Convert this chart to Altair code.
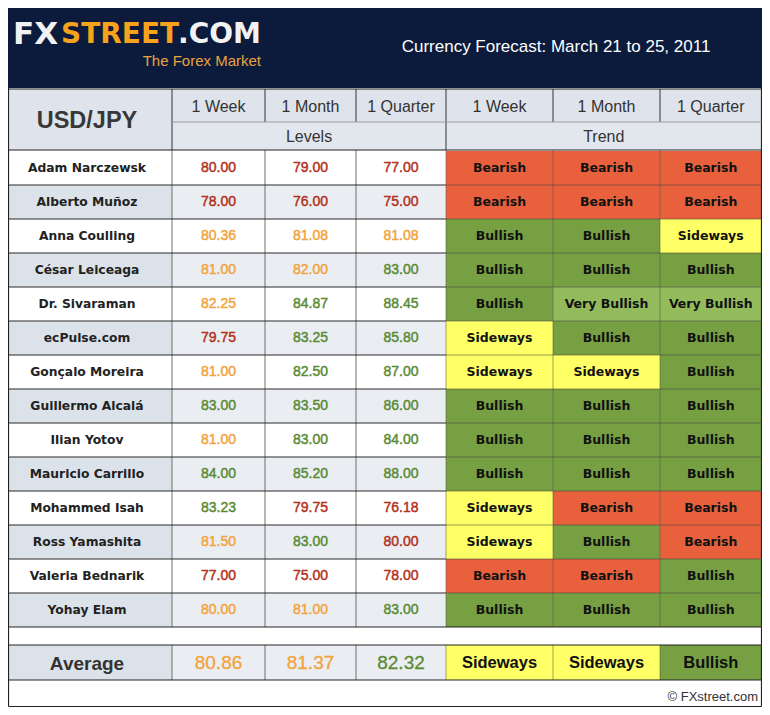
import altair as alt
import pandas as pd

# ---------------- data ----------------
pair = "USD/JPY"
title_text = "Currency Forecast: March 21 to 25, 2011"
logo_parts = ["FX", "STREET", ".COM"]
tagline = "The Forex Market"
footer_text = "© FXstreet.com"
horizons = ["1 Week", "1 Month", "1 Quarter"]
groups = ["Levels", "Trend"]
avg_label = "Average"

analysts = ["Adam Narczewsk", "Alberto Muñoz", "Anna Coulling", "César Leiceaga",
            "Dr. Sivaraman", "ecPulse.com", "Gonçalo Moreira", "Guillermo Alcalá",
            "Ilian Yotov", "Mauricio Carrillo", "Mohammed Isah", "Ross Yamashita",
            "Valeria Bednarik", "Yohay Elam"]

week_levels = [80.00, 78.00, 80.36, 81.00, 82.25, 79.75, 81.00, 83.00, 81.00, 84.00, 83.23, 81.50, 77.00, 80.00]
month_levels = [79.00, 76.00, 81.08, 82.00, 84.87, 83.25, 82.50, 83.50, 83.00, 85.20, 79.75, 83.00, 75.00, 81.00]
quarter_levels = [77.00, 75.00, 81.08, 83.00, 88.45, 85.80, 87.00, 86.00, 84.00, 88.00, 76.18, 80.00, 78.00, 83.00]

# tone of each level figure as printed (bear = red, flat = orange, bull = green)
week_tone = ["bear", "bear", "flat", "flat", "flat", "bear", "flat", "bull", "flat", "bull", "bull", "flat", "bear", "flat"]
month_tone = ["bear", "bear", "flat", "flat", "bull", "bull", "bull", "bull", "bull", "bull", "bear", "bull", "bear", "flat"]
quarter_tone = ["bear", "bear", "flat", "bull", "bull", "bull", "bull", "bull", "bull", "bull", "bear", "bear", "bear", "bull"]

week_trend = ["Bearish", "Bearish", "Bullish", "Bullish", "Bullish", "Sideways", "Sideways", "Bullish",
              "Bullish", "Bullish", "Sideways", "Sideways", "Bearish", "Bullish"]
month_trend = ["Bearish", "Bearish", "Bullish", "Bullish", "Very Bullish", "Bullish", "Sideways", "Bullish",
               "Bullish", "Bullish", "Bearish", "Bullish", "Bearish", "Bullish"]
quarter_trend = ["Bearish", "Bearish", "Sideways", "Bullish", "Very Bullish", "Bullish", "Bullish", "Bullish",
                 "Bullish", "Bullish", "Bearish", "Bearish", "Bullish", "Bullish"]

avg_levels = [80.86, 81.37, 82.32]
avg_tone = ["flat", "flat", "bull"]
avg_trend = ["Sideways", "Sideways", "Bullish"]

# ---------------- styling / layout ----------------
NAVY = "#0c1a3c"
HEAD_BG = "#dfe4ec"
NAME_SHADE = "#dce2ea"
CELL_SHADE = "#eaeef3"
TONE_COLOR = {"bear": "#b3301a", "flat": "#f2a33c", "bull": "#5b8a34"}
TREND_FILL = {"Bearish": "#e8613c", "Bullish": "#77a043", "Very Bullish": "#93bb5c", "Sideways": "#ffff66"}

L, R = 8.5, 761.5                       # visible frame
COL = [L, 172, 265, 356, 446, 553, 660, R]
NAVY_Y = (8, 88)
HDR1 = (89, 122)
HDR2 = (122, 150)
ROW0, ROW_H = 151, 34
AVG = (645, 680)
BOTTOM = 706.5

level_cols = [week_levels, month_levels, quarter_levels]
tone_cols = [week_tone, month_tone, quarter_tone]
trend_cols = [week_trend, month_trend, quarter_trend]

def ccx(c):
    return (COL[c] + COL[c + 1]) / 2 if c > 0 else (2 + 172) / 2

# ---------------- rects ----------------
rects = []
def rect(x, x2, y, y2, fill):
    rects.append(dict(x=x, x2=x2, y=y, y2=y2, fill=fill))

rect(L - 1, R + 1, NAVY_Y[0], NAVY_Y[1], NAVY)
rect(COL[0], COL[1], HDR1[0], HDR2[1], HEAD_BG)
rect(COL[1], COL[7], HDR1[0], HDR1[1], HEAD_BG)
rect(COL[1], COL[7], HDR2[0], HDR2[1], "#e2e7ee")
for i in range(len(analysts)):
    y, y2 = ROW0 + ROW_H * i, ROW0 + ROW_H * (i + 1)
    shaded = i % 2 == 1
    rect(COL[0], COL[1], y, y2, NAME_SHADE if shaded else "#ffffff")
    rect(COL[1], COL[4], y, y2, CELL_SHADE if shaded else "#ffffff")
    for k in range(3):
        rect(COL[4 + k], COL[5 + k], y, y2, TREND_FILL[trend_cols[k][i]])
rect(COL[0], COL[1], AVG[0], AVG[1], NAME_SHADE)
rect(COL[1], COL[4], AVG[0], AVG[1], CELL_SHADE)
for k in range(3):
    rect(COL[4 + k], COL[5 + k], AVG[0], AVG[1], TREND_FILL[avg_trend[k]])
rect_df = pd.DataFrame(rects)

# ---------------- rules ----------------
rules = []
def rule(x, x2, y, y2, color="#2a2a2a", w=1.0, op=1.0):
    rules.append(dict(x=x, x2=x2, y=y, y2=y2, c=color, w=w, op=op))

data_bottom = ROW0 + ROW_H * len(analysts)
for c in range(1, 7):
    rule(COL[c], COL[c], HDR1[0], HDR1[1], "#333333")
for c in (1, 4):
    rule(COL[c], COL[c], HDR2[0], HDR2[1], "#333333")
for c in range(1, 7):
    clr, op = ("#6e6e6e", 1.0) if c < 4 else ("#555555", 0.55)
    rule(COL[c], COL[c], HDR2[1], data_bottom, clr, 1, op)
    rule(COL[c], COL[c], AVG[0], AVG[1], clr, 1, op)
rule(L, L, NAVY_Y[1], BOTTOM, "#222222", 1.2)
rule(R, R, NAVY_Y[1], BOTTOM, "#222222", 1.2)
rule(L, R, HDR1[0], HDR1[0], "#222222", 1.2)
rule(COL[1], R, HDR1[1], HDR1[1], "#9a9a9a", 1)
rule(L, R, HDR2[1], HDR2[1], "#222222", 1.2)
for i in range(1, len(analysts)):
    y = ROW0 + ROW_H * i
    rule(L, COL[4], y, y, "#2a2a2a", 1.2)
    rule(COL[4], R, y, y, "#444444", 1, 0.55)
rule(L, R, data_bottom, data_bottom, "#222222", 1.2)
rule(L, R, AVG[0], AVG[0], "#222222", 1.2)
rule(L, R, AVG[1], AVG[1], "#222222", 1.2)
rule(L, R, BOTTOM, BOTTOM, "#222222", 1.2)
rule_df = pd.DataFrame(rules)

# ---------------- texts ----------------
def tdf(rows):
    return pd.DataFrame(rows, columns=["x", "y", "t", "c"])

name_rows = [(ccx(0), ROW0 + ROW_H * i + ROW_H / 2, n, "#222222") for i, n in enumerate(analysts)]
value_rows, trend_rows = [], []
for k in range(3):
    for i in range(len(analysts)):
        yc = ROW0 + ROW_H * i + ROW_H / 2
        value_rows.append((ccx(1 + k), yc, f"{level_cols[k][i]:.2f}", TONE_COLOR[tone_cols[k][i]]))
        trend_rows.append((ccx(4 + k), yc, trend_cols[k][i], "#111111"))
head_rows = [(ccx(1 + k), (HDR1[0] + HDR1[1]) / 2 + 1, (horizons * 2)[k], "#333333") for k in range(6)]
head_rows += [((COL[1] + COL[4]) / 2, (HDR2[0] + HDR2[1]) / 2 + 1, groups[0], "#333333"),
              ((COL[4] + COL[7]) / 2, (HDR2[0] + HDR2[1]) / 2 + 1, groups[1], "#333333")]
avg_y = (AVG[0] + AVG[1]) / 2
avg_val_rows = [(ccx(1 + k), avg_y, f"{avg_levels[k]:.2f}", TONE_COLOR[avg_tone[k]]) for k in range(3)]
avg_trend_rows = [(ccx(4 + k), avg_y, avg_trend[k], "#111111") for k in range(3)]

X = alt.X("x:Q", scale=alt.Scale(domain=[8, 762], range=[0, 754], nice=False, zero=False), axis=None)
Y = alt.Y("y:Q", scale=alt.Scale(domain=[8, 707], range=[0, 699], nice=False, zero=False), axis=None)
COLOR = alt.Color("c:N", scale=None)

def text_layer(rows, font, size, weight="normal", align="center", baseline="middle", heavy=0.0):
    mk = dict(font=font, fontSize=size, fontWeight=weight, align=align, baseline=baseline)
    enc = dict(x=X, y=Y, text="t:N", color=COLOR)
    if heavy > 0:
        mk["strokeWidth"] = heavy
        enc["stroke"] = alt.Stroke("c:N", scale=None)
    return alt.Chart(tdf(rows)).mark_text(**mk).encode(**enc)

rect_layer = alt.Chart(rect_df).mark_rect(strokeWidth=0).encode(
    x=X, x2="x2:Q", y=Y, y2="y2:Q", color=alt.Color("fill:N", scale=None)
)
rule_layer = alt.Chart(rule_df).mark_rule().encode(
    x=X, x2="x2:Q", y=Y, y2="y2:Q", color=COLOR,
    strokeWidth=alt.StrokeWidth("w:Q", scale=None),
    opacity=alt.Opacity("op:Q", scale=None),
)

layers = [
    rect_layer,
    rule_layer,
    text_layer(name_rows, "DejaVu Sans", 12.3, "bold"),
    text_layer(value_rows, "Liberation Sans", 14, heavy=0.45),
    text_layer(trend_rows, "DejaVu Sans", 12.5, "bold"),
    text_layer(head_rows, "Liberation Sans", 16),
    text_layer([(ccx(0), (HDR1[0] + HDR2[1]) / 2 + 1, pair, "#383838")], "Liberation Sans", 23.5, "bold"),
    text_layer([(ccx(0), avg_y + 1, avg_label, "#333333")], "Liberation Sans", 19, "bold"),
    text_layer(avg_val_rows, "Liberation Sans", 19, heavy=0.3),
    text_layer(avg_trend_rows, "Liberation Sans", 16.5, "bold"),
    text_layer([(556, 47, title_text, "#ffffff")], "Liberation Sans", 17),
    text_layer([(13, 35, logo_parts[0], "#f2f2f2")], "DejaVu Sans", 31, "bold", align="left"),
    text_layer([(61, 35, logo_parts[1], "#f6a21c"), (178, 35, logo_parts[2], "#f2f2f2")],
               "DejaVu Sans", 28, "bold", align="left"),
    text_layer([(261, 61, tagline, "#e9a23f")], "Liberation Sans", 15, align="right"),
    text_layer([(758, 697, footer_text, "#333333")], "Liberation Sans", 13, align="right"),
]

chart = alt.layer(*layers).properties(
    width=754, height=699, padding=0, autosize=alt.AutoSizeParams(type="none"),
    background="#ffffff",
).configure_view(strokeWidth=0)

chart.save("out.html", embed_options={"renderer": "svg", "actions": False})
